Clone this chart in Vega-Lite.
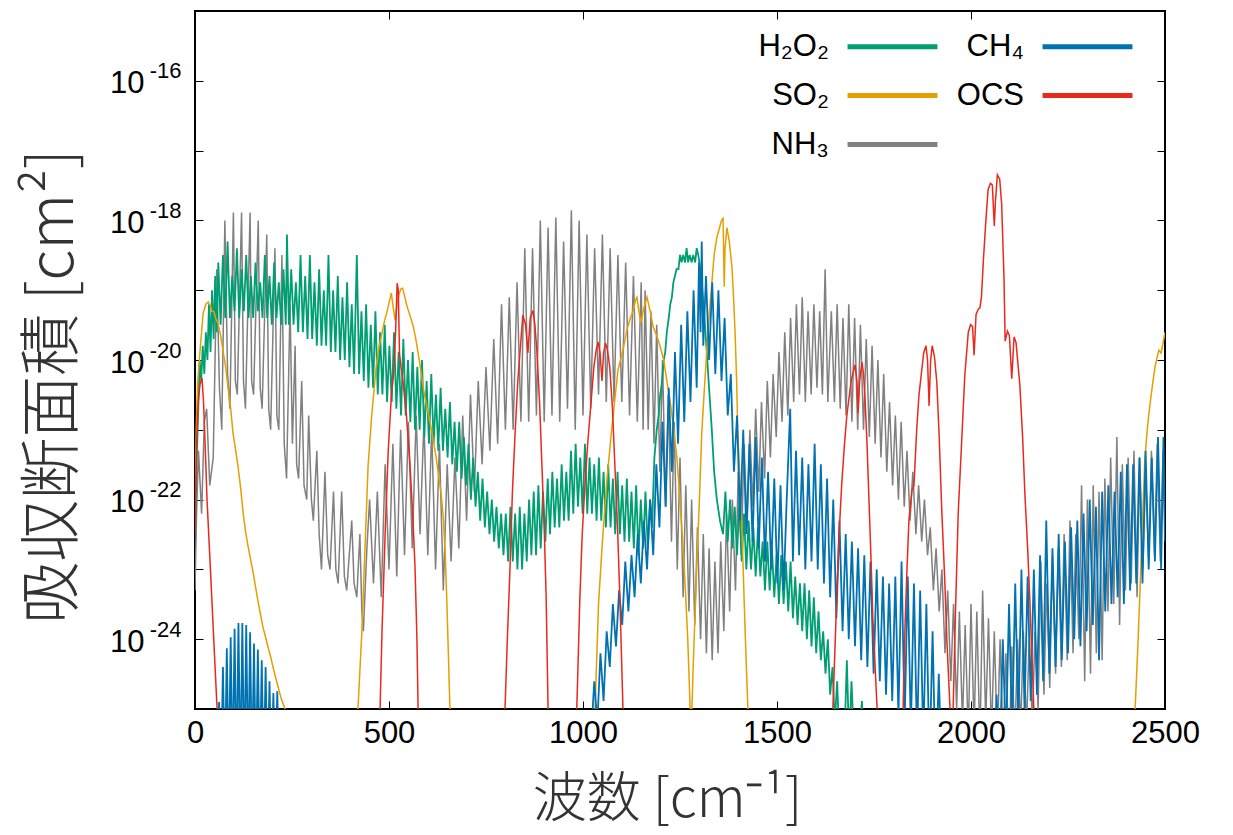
{
"$schema": "https://vega.github.io/schema/vega-lite/v6.json",
"width": 970, "height": 698,
"autosize": "none",
"padding": {"left": 195, "top": 11, "right": 68, "bottom": 126},
"background": "white",
"config": {"view": {"stroke": "black", "strokeWidth": 2}, "font": "Liberation Sans"},
"datasets": {
"ocs": [
{"x":0,"y":3.2e-23},{"x":4,"y":6.3e-22},{"x":8,"y":2.5e-21},{"x":13,"y":4.5e-21},{"x":18,"y":5.5e-21},{"x":22,"y":2.5e-21},{"x":26,"y":6.3e-22},{"x":31,"y":1e-22},{"x":38,"y":1.6e-23},{"x":44,"y":3.2e-24},{"x":50,"y":6.3e-25},{"x":57,"y":1e-25},{"x":65,"y":3e-27},
{"x":470,"y":3e-27},{"x":477,"y":1e-25},{"x":482,"y":1.3e-24},{"x":490,"y":3.2e-23},{"x":498,"y":5e-22},{"x":507,"y":3.7e-21},{"x":512,"y":6.3e-21},{"x":517,"y":2.5e-20},{"x":521,"y":1.26e-19},{"x":524,"y":1e-19},{"x":527,"y":1.26e-20},{"x":531,"y":7.9e-21},{"x":536,"y":5e-21},{"x":545,"y":1.6e-21},{"x":554,"y":3.2e-22},{"x":561,"y":6.3e-23},{"x":567,"y":1.1e-23},{"x":572,"y":1e-24},{"x":575,"y":1e-25},{"x":582,"y":3e-27},
{"x":792,"y":3e-27},{"x":799,"y":1e-25},{"x":805,"y":1e-24},{"x":812,"y":1.1e-23},{"x":818,"y":1.26e-22},{"x":825,"y":8.9e-22},{"x":832,"y":5e-21},{"x":838,"y":1.38e-20},{"x":845,"y":4.4e-20},{"x":852,"y":3.2e-20},{"x":858,"y":1.26e-20},{"x":864,"y":4e-20},{"x":871,"y":5.1e-20},{"x":876,"y":3.2e-20},{"x":881,"y":1.38e-20},{"x":888,"y":2.5e-21},{"x":894,"y":3.2e-22},{"x":900,"y":4e-23},{"x":905,"y":4e-24},{"x":910,"y":1e-25},{"x":917,"y":3e-27},
{"x":978,"y":3e-27},{"x":984,"y":1e-25},{"x":988,"y":6.3e-25},{"x":992,"y":4e-24},{"x":998,"y":3.2e-23},{"x":1005,"y":1.6e-22},{"x":1012,"y":6.3e-22},{"x":1018,"y":1.6e-21},{"x":1028,"y":7.9e-21},{"x":1034,"y":1.4e-20},{"x":1039,"y":1.8e-20},{"x":1044,"y":1.26e-20},{"x":1049,"y":5e-21},{"x":1053,"y":1.26e-20},{"x":1058,"y":1.74e-20},{"x":1063,"y":1.4e-20},{"x":1069,"y":7.9e-21},{"x":1076,"y":2e-21},{"x":1082,"y":3.2e-22},{"x":1089,"y":4e-23},{"x":1095,"y":4e-24},{"x":1103,"y":1e-25},{"x":1110,"y":3e-27},
{"x":1636,"y":3e-27},{"x":1644,"y":1e-25},{"x":1654,"y":4e-24},{"x":1660,"y":3.2e-23},{"x":1667,"y":1.74e-22},{"x":1674,"y":6.3e-22},{"x":1680,"y":1.6e-21},{"x":1691,"y":5e-21},{"x":1701,"y":8.5e-21},{"x":1706,"y":5e-21},{"x":1709,"y":1.74e-21},{"x":1713,"y":5e-21},{"x":1719,"y":9.3e-21},{"x":1723,"y":6.3e-21},{"x":1727,"y":2.7e-21},{"x":1732,"y":6.3e-22},{"x":1737,"y":1e-22},{"x":1742,"y":1.6e-23},{"x":1747,"y":2e-24},{"x":1758,"y":1e-25},{"x":1765,"y":3e-27},
{"x":1818,"y":3e-27},{"x":1825,"y":1e-25},{"x":1830,"y":1.6e-24},{"x":1835,"y":1e-23},{"x":1840,"y":5e-23},{"x":1848,"y":1.38e-22},{"x":1853,"y":1.6e-22},{"x":1860,"y":1e-21},{"x":1866,"y":3.2e-21},{"x":1872,"y":6.3e-21},{"x":1878,"y":1.26e-20},{"x":1884,"y":1.6e-20},{"x":1888,"y":1e-20},{"x":1892,"y":2.2e-21},{"x":1896,"y":1e-20},{"x":1900,"y":1.6e-20},{"x":1906,"y":1.1e-20},{"x":1912,"y":4.7e-21},{"x":1918,"y":7.9e-22},{"x":1925,"y":6.3e-23},{"x":1932,"y":7.9e-24},{"x":1938,"y":9.3e-25},{"x":1946,"y":1e-25},{"x":1950,"y":1e-26},
{"x":1954,"y":1e-25},{"x":1960,"y":2.5e-24},{"x":1967,"y":6.3e-23},{"x":1976,"y":6.9e-22},{"x":1984,"y":6e-21},{"x":1993,"y":2.5e-20},{"x":1999,"y":3.2e-20},{"x":2004,"y":3e-20},{"x":2008,"y":1.17e-20},{"x":2013,"y":4.5e-20},{"x":2019,"y":5.4e-20},{"x":2023,"y":5.6e-20},{"x":2027,"y":8.1e-20},{"x":2032,"y":2.75e-19},{"x":2038,"y":9.3e-19},{"x":2044,"y":2.75e-18},{"x":2050,"y":3.4e-18},{"x":2055,"y":3.2e-18},{"x":2060,"y":8.3e-19},{"x":2063,"y":1.9e-18},{"x":2068,"y":4.5e-18},{"x":2074,"y":3.9e-18},{"x":2079,"y":1.7e-18},{"x":2085,"y":1.55e-19},{"x":2088,"y":1.86e-20},{"x":2094,"y":2.6e-20},{"x":2099,"y":2.24e-20},{"x":2105,"y":5.4e-21},{"x":2111,"y":2.14e-20},{"x":2116,"y":1.78e-20},{"x":2126,"y":4.3e-21},{"x":2133,"y":7.9e-22},{"x":2139,"y":1.17e-22},{"x":2146,"y":2e-23},{"x":2152,"y":3.2e-24},{"x":2162,"y":1e-25},{"x":2170,"y":3e-27}
],
"so2": [
{"x":0,"y":1e-22},{"x":3,"y":1e-21},{"x":7,"y":5e-21},{"x":14,"y":1.6e-20},{"x":21,"y":4.7e-20},{"x":28,"y":6.3e-20},{"x":34,"y":6.8e-20},{"x":40,"y":6e-20},{"x":43,"y":5e-20},{"x":48,"y":5e-20},{"x":53,"y":4e-20},{"x":59,"y":3.4e-20},{"x":66,"y":2.24e-20},{"x":72,"y":1.38e-20},{"x":79,"y":7.9e-21},{"x":85,"y":4.1e-21},{"x":92,"y":2e-21},{"x":98,"y":8.9e-22},{"x":105,"y":5e-22},{"x":111,"y":2.95e-22},{"x":118,"y":1.41e-22},{"x":124,"y":6.5e-23},{"x":130,"y":3.55e-23},{"x":137,"y":2.1e-23},{"x":143,"y":1.41e-23},{"x":150,"y":8.9e-24},{"x":156,"y":5.6e-24},{"x":162,"y":3.6e-24},{"x":169,"y":2.24e-24},{"x":175,"y":1.5e-24},{"x":181,"y":1.12e-24},{"x":188,"y":7.8e-25},{"x":195,"y":5.6e-25},{"x":201,"y":4e-25},{"x":208,"y":2.8e-25},{"x":214,"y":2.1e-25},{"x":222,"y":1.41e-25},{"x":232,"y":1e-25},{"x":245,"y":3e-27},
{"x":410,"y":3e-27},{"x":420,"y":1e-25},{"x":430,"y":1.26e-24},{"x":438,"y":1.9e-23},{"x":446,"y":2.95e-22},{"x":455,"y":1.5e-21},{"x":462,"y":4e-21},{"x":468,"y":9.1e-21},{"x":475,"y":1.6e-20},{"x":482,"y":2.45e-20},{"x":488,"y":3.55e-20},{"x":494,"y":4.7e-20},{"x":500,"y":6.6e-20},{"x":506,"y":9.1e-20},{"x":511,"y":5.6e-20},{"x":516,"y":3.7e-20},{"x":521,"y":6.3e-20},{"x":526,"y":8.9e-20},{"x":531,"y":1.05e-19},{"x":535,"y":1.07e-19},{"x":540,"y":8.3e-20},{"x":545,"y":6.3e-20},{"x":550,"y":5.1e-20},{"x":556,"y":4e-20},{"x":563,"y":2.95e-20},{"x":569,"y":2e-20},{"x":575,"y":1.26e-20},{"x":582,"y":7.1e-21},{"x":588,"y":4.1e-21},{"x":595,"y":2.5e-21},{"x":601,"y":1.74e-21},{"x":608,"y":1.12e-21},{"x":614,"y":7.1e-22},{"x":621,"y":4.2e-22},{"x":627,"y":2.4e-22},{"x":634,"y":1.26e-22},{"x":640,"y":5.6e-23},{"x":645,"y":1.6e-23},{"x":649,"y":3.6e-24},{"x":653,"y":6.3e-25},{"x":657,"y":1e-25},{"x":665,"y":3e-27},
{"x":1020,"y":3e-27},{"x":1031,"y":1e-25},{"x":1040,"y":3.2e-24},{"x":1050,"y":2.5e-23},{"x":1061,"y":1.74e-22},{"x":1072,"y":7.9e-22},{"x":1082,"y":2.7e-21},{"x":1090,"y":7.1e-21},{"x":1103,"y":1.38e-20},{"x":1113,"y":2.7e-20},{"x":1122,"y":4e-20},{"x":1129,"y":5e-20},{"x":1135,"y":7.1e-20},{"x":1139,"y":7.9e-20},{"x":1144,"y":5e-20},{"x":1149,"y":3.4e-20},{"x":1157,"y":5.6e-20},{"x":1165,"y":7.9e-20},{"x":1173,"y":5e-20},{"x":1181,"y":2.95e-20},{"x":1190,"y":2.24e-20},{"x":1199,"y":1.55e-20},{"x":1208,"y":1e-20},{"x":1216,"y":5.1e-21},{"x":1225,"y":2.5e-21},{"x":1233,"y":1.1e-21},{"x":1242,"y":4e-22},{"x":1250,"y":1e-22},{"x":1257,"y":2.5e-23},{"x":1263,"y":6.3e-24},{"x":1270,"y":1e-24},{"x":1276,"y":1.07e-25},{"x":1280,"y":7.9e-26},{"x":1284,"y":4e-25},{"x":1293,"y":1.1e-23},{"x":1300,"y":1e-22},{"x":1306,"y":8.9e-22},{"x":1313,"y":4e-21},{"x":1319,"y":1.38e-20},{"x":1326,"y":5e-20},{"x":1332,"y":1.26e-19},{"x":1338,"y":3.2e-19},{"x":1345,"y":5.75e-19},{"x":1352,"y":7.9e-19},{"x":1357,"y":1e-18},{"x":1361,"y":1.07e-18},{"x":1364,"y":1.12e-19},{"x":1366,"y":4e-19},{"x":1371,"y":7.9e-19},{"x":1377,"y":5e-19},{"x":1384,"y":2.1e-19},{"x":1388,"y":7.9e-20},{"x":1392,"y":2.45e-20},{"x":1396,"y":5e-21},{"x":1399,"y":8.9e-22},{"x":1405,"y":1.6e-22},{"x":1410,"y":3.3e-23},{"x":1414,"y":6.3e-24},{"x":1418,"y":1.23e-24},{"x":1425,"y":1e-25},{"x":1435,"y":3e-27},
{"x":2410,"y":3e-27},{"x":2423,"y":1e-25},{"x":2430,"y":7.9e-25},{"x":2436,"y":5.75e-24},{"x":2442,"y":5e-23},{"x":2448,"y":3.8e-22},{"x":2455,"y":1.12e-21},{"x":2461,"y":2.24e-21},{"x":2468,"y":4.5e-21},{"x":2474,"y":7.8e-21},{"x":2480,"y":1.12e-20},{"x":2484,"y":1.38e-20},{"x":2490,"y":1.26e-20},{"x":2497,"y":2e-20},{"x":2500,"y":2.5e-20}
],
"ch4": [
{"x":57,"y":1e-26},{"x":62,"y":1.26e-25},{"x":67,"y":1e-26},{"x":72,"y":4e-25},{"x":77,"y":1e-26},{"x":82,"y":7.4e-25},{"x":87,"y":1e-26},{"x":92,"y":1.07e-24},{"x":97,"y":1e-26},{"x":102,"y":1.41e-24},{"x":107,"y":1e-26},{"x":112,"y":1.7e-24},{"x":117,"y":1e-26},{"x":122,"y":1.7e-24},{"x":127,"y":1e-26},{"x":132,"y":1.6e-24},{"x":137,"y":1e-26},{"x":142,"y":1.26e-24},{"x":147,"y":1e-26},{"x":152,"y":8.7e-25},{"x":157,"y":1e-26},{"x":162,"y":7.1e-25},{"x":167,"y":1e-26},{"x":172,"y":5e-25},{"x":177,"y":1e-26},{"x":182,"y":4e-25},{"x":187,"y":1e-26},{"x":192,"y":2.5e-25},{"x":197,"y":1e-26},{"x":202,"y":1.7e-25},{"x":207,"y":1e-26},{"x":212,"y":1.8e-25},{"x":217,"y":1e-26},
{"x":1005,"y":3.2e-26},{"x":1013,"y":1e-25},{"x":1021,"y":4e-26},{"x":1029,"y":2.5e-25},{"x":1037,"y":6.3e-26},{"x":1045,"y":6.3e-25},{"x":1053,"y":1.3e-25},{"x":1061,"y":1.3e-24},{"x":1069,"y":4e-25},{"x":1077,"y":3.2e-24},{"x":1085,"y":7.9e-25},{"x":1093,"y":5e-24},{"x":1101,"y":1.6e-24},{"x":1109,"y":1.3e-23},{"x":1117,"y":2.5e-24},{"x":1125,"y":1.6e-23},{"x":1133,"y":4e-24},{"x":1141,"y":3.2e-23},{"x":1149,"y":6.3e-24},{"x":1157,"y":5e-23},{"x":1165,"y":1e-23},{"x":1173,"y":1e-22},{"x":1181,"y":1.6e-23},{"x":1189,"y":3.2e-22},{"x":1197,"y":4e-23},{"x":1205,"y":1.3e-21},{"x":1213,"y":7.9e-23},{"x":1221,"y":4e-21},{"x":1229,"y":2.5e-22},{"x":1237,"y":1.3e-20},{"x":1245,"y":6.3e-22},{"x":1253,"y":3.2e-20},{"x":1261,"y":1.3e-21},{"x":1269,"y":5e-20},{"x":1277,"y":2.5e-21},{"x":1285,"y":1e-19},{"x":1293,"y":4e-21},{"x":1299,"y":2.5e-19},{"x":1303,"y":2.5e-20},{"x":1306,"y":5e-19},{"x":1310,"y":1.6e-20},{"x":1317,"y":1.6e-19},{"x":1325,"y":1e-20},{"x":1333,"y":1.3e-19},{"x":1341,"y":6.3e-21},{"x":1349,"y":1e-19},{"x":1357,"y":5e-21},{"x":1365,"y":4e-20},{"x":1373,"y":1.6e-21},{"x":1381,"y":6.3e-21},{"x":1389,"y":2.5e-22},{"x":1397,"y":1.6e-21},{"x":1405,"y":5e-23},{"x":1413,"y":1e-21},{"x":1421,"y":3.2e-23},{"x":1429,"y":6.3e-22},{"x":1437,"y":2.5e-23},{"x":1445,"y":7.9e-22},{"x":1453,"y":2e-23},{"x":1461,"y":4e-22},{"x":1469,"y":1.3e-23},{"x":1477,"y":2.5e-22},{"x":1485,"y":1e-23},{"x":1493,"y":2e-22},{"x":1501,"y":6.3e-24},{"x":1509,"y":1.6e-22},{"x":1517,"y":5e-24},{"x":1525,"y":1e-22},{"x":1534,"y":2e-21},{"x":1541,"y":1.3e-23},{"x":1549,"y":5e-22},{"x":1557,"y":1.6e-23},{"x":1565,"y":4e-22},{"x":1573,"y":1e-23},{"x":1581,"y":3.2e-22},{"x":1589,"y":1.3e-23},{"x":1597,"y":6.3e-22},{"x":1605,"y":1e-23},{"x":1613,"y":3.2e-22},{"x":1621,"y":6.3e-24},{"x":1629,"y":2e-22},{"x":1637,"y":4e-24},{"x":1645,"y":1e-22},{"x":1653,"y":2e-24},{"x":1661,"y":5e-23},{"x":1669,"y":1.3e-24},{"x":1677,"y":3.2e-23},{"x":1685,"y":1e-24},{"x":1693,"y":2.5e-23},{"x":1701,"y":7.9e-25},{"x":1709,"y":2e-23},{"x":1717,"y":5e-25},{"x":1725,"y":1.6e-23},{"x":1733,"y":4e-25},{"x":1741,"y":1.3e-23},{"x":1749,"y":3.2e-25},{"x":1757,"y":1e-23},{"x":1765,"y":2.5e-25},{"x":1773,"y":7.9e-24},{"x":1781,"y":1.6e-25},{"x":1789,"y":6.3e-24},{"x":1797,"y":1.3e-25},{"x":1805,"y":7.9e-24},{"x":1813,"y":7.9e-26},{"x":1821,"y":1.3e-23},{"x":1829,"y":6.3e-26},{"x":1837,"y":7.9e-24},{"x":1845,"y":5e-26},{"x":1853,"y":6.3e-24},{"x":1861,"y":3.2e-26},{"x":1869,"y":5e-24},{"x":1877,"y":3.2e-26},{"x":1885,"y":3.2e-24},{"x":1893,"y":1.6e-26},{"x":1901,"y":1.3e-24},{"x":1909,"y":1e-26},{"x":1917,"y":3.2e-25},{"x":1925,"y":1e-26},{"x":1933,"y":7.9e-26},{"x":1941,"y":3.2e-27},
{"x":2040,"y":3.2e-27},{"x":2050,"y":4e-26},{"x":2058,"y":1e-26},{"x":2066,"y":1.6e-25},{"x":2074,"y":1.6e-26},{"x":2082,"y":1e-24},{"x":2090,"y":3.2e-26},{"x":2098,"y":3.2e-24},{"x":2106,"y":5e-26},{"x":2114,"y":6.3e-24},{"x":2122,"y":6.3e-26},{"x":2130,"y":1e-23},{"x":2138,"y":1e-25},{"x":2146,"y":7.9e-24},{"x":2154,"y":1.3e-25},{"x":2162,"y":1e-23},{"x":2170,"y":1.6e-25},{"x":2178,"y":1.6e-23},{"x":2186,"y":2.5e-25},{"x":2194,"y":5e-23},{"x":2202,"y":3.2e-25},{"x":2210,"y":2e-23},{"x":2218,"y":4e-25},{"x":2226,"y":3.2e-23},{"x":2234,"y":5e-25},{"x":2242,"y":2.5e-23},{"x":2250,"y":6.3e-25},{"x":2258,"y":4e-23},{"x":2266,"y":1e-24},{"x":2274,"y":5e-23},{"x":2282,"y":7.9e-25},{"x":2290,"y":6.3e-23},{"x":2298,"y":1.3e-24},{"x":2306,"y":1e-22},{"x":2314,"y":1.6e-24},{"x":2322,"y":7.9e-23},{"x":2330,"y":5e-25},{"x":2338,"y":1.3e-22},{"x":2346,"y":2.5e-24},{"x":2354,"y":1.6e-22},{"x":2362,"y":3.2e-24},{"x":2370,"y":1.3e-22},{"x":2378,"y":4e-24},{"x":2386,"y":2.5e-22},{"x":2394,"y":3.2e-24},{"x":2402,"y":3.2e-22},{"x":2410,"y":5e-24},{"x":2418,"y":3.2e-22},{"x":2426,"y":6.3e-24},{"x":2434,"y":4e-22},{"x":2442,"y":6.3e-24},{"x":2450,"y":5e-22},{"x":2458,"y":1e-23},{"x":2466,"y":4e-22},{"x":2474,"y":1.3e-23},{"x":2482,"y":7.9e-22},{"x":2490,"y":1e-23},{"x":2496,"y":7.9e-22},{"x":2500,"y":2.5e-23}
],
"h2o2": [
{"x":0,"y":3.2e-23},{"x":4,"y":3.2e-22},{"x":8,"y":1.6e-21},{"x":12,"y":1e-20},{"x":16,"y":5e-21},{"x":20,"y":1.6e-20},{"x":24,"y":6.3e-21},{"x":28,"y":2.5e-20},{"x":32,"y":1e-20},{"x":36,"y":6.3e-20},{"x":40,"y":1.3e-20},{"x":44,"y":1e-19},{"x":48,"y":2e-20},{"x":52,"y":1.6e-19},{"x":56,"y":2.5e-20},{"x":60,"y":2.5e-19},{"x":66,"y":3.2e-20},{"x":72,"y":3.2e-19},{"x":78,"y":4e-20},{"x":84,"y":5e-19},{"x":90,"y":4e-20},{"x":96,"y":1.6e-19},{"x":102,"y":5e-20},{"x":108,"y":4e-19},{"x":114,"y":4e-20},{"x":120,"y":2e-19},{"x":126,"y":5e-20},{"x":132,"y":3.2e-19},{"x":138,"y":4e-20},{"x":144,"y":1.6e-19},{"x":150,"y":4e-20},{"x":156,"y":2.5e-19},{"x":162,"y":5e-20},{"x":168,"y":1.3e-19},{"x":174,"y":4e-20},{"x":180,"y":3.2e-19},{"x":186,"y":4e-20},{"x":192,"y":1.6e-19},{"x":198,"y":3.2e-20},{"x":204,"y":2.5e-19},{"x":210,"y":4e-20},{"x":216,"y":1.3e-19},{"x":222,"y":3.2e-20},{"x":228,"y":2e-19},{"x":234,"y":3.2e-20},{"x":237,"y":6.3e-19},{"x":242,"y":3.2e-20},{"x":248,"y":2e-19},{"x":254,"y":3.2e-20},{"x":260,"y":1.3e-19},{"x":266,"y":2.5e-20},{"x":272,"y":3.2e-19},{"x":278,"y":2.5e-20},{"x":284,"y":1.6e-19},{"x":290,"y":2e-20},{"x":296,"y":3.2e-19},{"x":302,"y":2e-20},{"x":308,"y":1.3e-19},{"x":314,"y":1.6e-20},{"x":320,"y":2e-19},{"x":326,"y":1.6e-20},{"x":332,"y":1e-19},{"x":338,"y":1.6e-20},{"x":344,"y":3.2e-19},{"x":350,"y":1.3e-20},{"x":356,"y":1e-19},{"x":362,"y":1.3e-20},{"x":368,"y":1.6e-19},{"x":374,"y":1e-20},{"x":380,"y":7.9e-20},{"x":386,"y":1e-20},{"x":392,"y":1.3e-19},{"x":398,"y":7.9e-21},{"x":404,"y":6.3e-20},{"x":410,"y":6.3e-21},{"x":417,"y":3.2e-19},{"x":423,"y":6.3e-21},{"x":429,"y":5e-20},{"x":435,"y":5e-21},{"x":441,"y":6.3e-20},{"x":447,"y":4e-21},{"x":453,"y":3.2e-20},{"x":459,"y":4e-21},{"x":465,"y":5e-20},{"x":471,"y":3.2e-21},{"x":477,"y":2.5e-20},{"x":483,"y":3.2e-21},{"x":489,"y":3.2e-20},{"x":495,"y":2.5e-21},{"x":501,"y":1.6e-20},{"x":507,"y":2.5e-21},{"x":513,"y":2.5e-20},{"x":519,"y":2e-21},{"x":525,"y":1.3e-20},{"x":531,"y":1.6e-21},{"x":537,"y":2e-20},{"x":543,"y":1.6e-21},{"x":549,"y":1e-20},{"x":555,"y":1.3e-21},{"x":561,"y":1.3e-20},{"x":567,"y":1e-21},{"x":573,"y":7.9e-21},{"x":579,"y":1e-21},{"x":585,"y":1e-20},{"x":591,"y":7.9e-22},{"x":597,"y":5e-21},{"x":603,"y":6.3e-22},{"x":609,"y":6.3e-21},{"x":615,"y":6.3e-22},{"x":621,"y":3.2e-21},{"x":627,"y":5e-22},{"x":633,"y":4e-21},{"x":639,"y":5e-22},{"x":645,"y":2e-21},{"x":651,"y":4e-22},{"x":657,"y":2.5e-21},{"x":663,"y":3.2e-22},{"x":669,"y":1.3e-21},{"x":675,"y":2.5e-22},{"x":681,"y":1.3e-21},{"x":687,"y":2e-22},{"x":693,"y":7.9e-22},{"x":699,"y":1.6e-22},{"x":705,"y":6.3e-22},{"x":711,"y":1e-22},{"x":717,"y":4e-22},{"x":723,"y":7.9e-23},{"x":729,"y":2.5e-22},{"x":735,"y":5e-23},{"x":741,"y":2e-22},{"x":747,"y":4e-23},{"x":753,"y":1.3e-22},{"x":759,"y":3.2e-23},{"x":765,"y":1e-22},{"x":771,"y":2.5e-23},{"x":777,"y":7.9e-23},{"x":783,"y":2e-23},{"x":789,"y":6.3e-23},{"x":795,"y":1.6e-23},{"x":801,"y":6.3e-23},{"x":807,"y":1.3e-23},{"x":813,"y":7.9e-23},{"x":819,"y":1.3e-23},{"x":825,"y":6.3e-23},{"x":831,"y":1e-23},{"x":837,"y":7.9e-23},{"x":843,"y":1e-23},{"x":849,"y":6.3e-23},{"x":855,"y":1.3e-23},{"x":861,"y":1e-22},{"x":867,"y":1.6e-23},{"x":873,"y":1.3e-22},{"x":879,"y":1.6e-23},{"x":885,"y":1.6e-22},{"x":891,"y":2e-23},{"x":897,"y":1.3e-22},{"x":903,"y":2.5e-23},{"x":909,"y":2e-22},{"x":915,"y":3.2e-23},{"x":921,"y":2.5e-22},{"x":927,"y":4e-23},{"x":933,"y":2e-22},{"x":939,"y":4e-23},{"x":945,"y":3.2e-22},{"x":951,"y":5e-23},{"x":957,"y":2.5e-22},{"x":963,"y":5e-23},{"x":969,"y":5e-22},{"x":975,"y":6.3e-23},{"x":981,"y":6.3e-22},{"x":987,"y":7.9e-23},{"x":993,"y":4e-22},{"x":999,"y":6.3e-23},{"x":1005,"y":6.3e-22},{"x":1011,"y":6.3e-23},{"x":1017,"y":4e-22},{"x":1023,"y":6.3e-23},{"x":1029,"y":3.2e-22},{"x":1035,"y":5e-23},{"x":1041,"y":4e-22},{"x":1047,"y":5e-23},{"x":1053,"y":2.5e-22},{"x":1059,"y":4e-23},{"x":1065,"y":3.2e-22},{"x":1071,"y":4e-23},{"x":1077,"y":2e-22},{"x":1083,"y":3.2e-23},{"x":1089,"y":2.5e-22},{"x":1095,"y":3.2e-23},{"x":1101,"y":1.6e-22},{"x":1107,"y":2.5e-23},{"x":1113,"y":2e-22},{"x":1119,"y":2.5e-23},{"x":1125,"y":1.3e-22},{"x":1131,"y":2e-23},{"x":1137,"y":1.6e-22},{"x":1143,"y":1.6e-23},{"x":1149,"y":1e-22},{"x":1155,"y":2e-23},{"x":1161,"y":1.3e-22},{"x":1167,"y":2e-23},{"x":1173,"y":1e-22},{"x":1178,"y":4e-23},{"x":1184,"y":4e-22},{"x":1190,"y":1e-21},{"x":1195,"y":1.6e-21},{"x":1199,"y":3.2e-21},{"x":1204,"y":5e-21},{"x":1208,"y":1e-20},{"x":1212,"y":1.3e-20},{"x":1216,"y":2.5e-20},{"x":1221,"y":4e-20},{"x":1225,"y":6.3e-20},{"x":1229,"y":7.9e-20},{"x":1233,"y":1.3e-19},{"x":1237,"y":1.6e-19},{"x":1241,"y":2e-19},{"x":1246,"y":2e-19},{"x":1250,"y":3.2e-19},{"x":1254,"y":2.5e-19},{"x":1258,"y":3.2e-19},{"x":1263,"y":2.5e-19},{"x":1267,"y":4e-19},{"x":1271,"y":2.5e-19},{"x":1275,"y":3.2e-19},{"x":1280,"y":2.5e-19},{"x":1284,"y":3.2e-19},{"x":1289,"y":2.5e-19},{"x":1293,"y":4e-19},{"x":1297,"y":3.2e-19},{"x":1300,"y":2.5e-19},{"x":1306,"y":1.3e-19},{"x":1313,"y":4e-20},{"x":1319,"y":1.3e-20},{"x":1326,"y":3.2e-21},{"x":1332,"y":1e-21},{"x":1338,"y":2.5e-22},{"x":1345,"y":1e-22},{"x":1353,"y":5e-23},{"x":1361,"y":3.2e-23},{"x":1367,"y":1.3e-22},{"x":1373,"y":2.5e-23},{"x":1379,"y":1e-22},{"x":1385,"y":2e-23},{"x":1391,"y":7.9e-23},{"x":1397,"y":1.6e-23},{"x":1403,"y":1e-22},{"x":1409,"y":1.3e-23},{"x":1415,"y":6.3e-23},{"x":1421,"y":1e-23},{"x":1427,"y":5e-23},{"x":1433,"y":1e-23},{"x":1439,"y":4e-23},{"x":1445,"y":7.9e-24},{"x":1451,"y":4e-23},{"x":1457,"y":7.9e-24},{"x":1463,"y":2.5e-23},{"x":1469,"y":5e-24},{"x":1475,"y":2.5e-23},{"x":1481,"y":5e-24},{"x":1487,"y":2e-23},{"x":1493,"y":4e-24},{"x":1499,"y":1.6e-23},{"x":1505,"y":3.2e-24},{"x":1511,"y":1.6e-23},{"x":1517,"y":3.2e-24},{"x":1523,"y":1.3e-23},{"x":1529,"y":2.5e-24},{"x":1535,"y":1.3e-23},{"x":1541,"y":2e-24},{"x":1547,"y":7.9e-24},{"x":1553,"y":1.6e-24},{"x":1559,"y":6.3e-24},{"x":1565,"y":1.3e-24},{"x":1571,"y":6.3e-24},{"x":1577,"y":1e-24},{"x":1583,"y":5e-24},{"x":1589,"y":7.9e-25},{"x":1595,"y":4e-24},{"x":1601,"y":6.3e-25},{"x":1607,"y":2.5e-24},{"x":1613,"y":5e-25},{"x":1619,"y":1.3e-24},{"x":1625,"y":3.2e-25},{"x":1631,"y":1e-24},{"x":1637,"y":1.6e-25},{"x":1643,"y":4e-25},{"x":1649,"y":6.3e-26},{"x":1655,"y":2.5e-25},{"x":1661,"y":3.2e-26},{"x":1667,"y":5e-26},{"x":1673,"y":2.5e-26},{"x":1680,"y":5e-25},{"x":1686,"y":3.2e-26},{"x":1692,"y":2.5e-25},{"x":1698,"y":4e-26},{"x":1704,"y":1e-25},{"x":1710,"y":3.2e-26},{"x":1719,"y":1.3e-25},{"x":1726,"y":1e-26}
],
"nh3": [
{"x":0,"y":5e-24},{"x":4,"y":6.3e-23},{"x":9,"y":5e-22},{"x":17,"y":6.3e-23},{"x":24,"y":1.3e-21},{"x":30,"y":2e-21},{"x":38,"y":1.6e-22},{"x":47,"y":4e-22},{"x":56,"y":2e-19},{"x":63,"y":4e-21},{"x":69,"y":1e-21},{"x":77,"y":1e-18},{"x":84,"y":6.3e-21},{"x":90,"y":2e-21},{"x":99,"y":1.3e-18},{"x":104,"y":5e-21},{"x":109,"y":3.2e-21},{"x":120,"y":1.3e-18},{"x":125,"y":5e-21},{"x":130,"y":2e-21},{"x":142,"y":1.3e-18},{"x":146,"y":5e-21},{"x":151,"y":3.2e-21},{"x":163,"y":1e-18},{"x":168,"y":4e-21},{"x":173,"y":2e-21},{"x":185,"y":6.3e-19},{"x":190,"y":2e-21},{"x":195,"y":1e-21},{"x":206,"y":4e-19},{"x":211,"y":1.6e-21},{"x":216,"y":1e-21},{"x":224,"y":3.2e-19},{"x":230,"y":6.3e-22},{"x":236,"y":2e-22},{"x":245,"y":6.3e-20},{"x":251,"y":6.3e-22},{"x":258,"y":1.6e-20},{"x":262,"y":3.2e-22},{"x":267,"y":2e-22},{"x":275,"y":5e-21},{"x":281,"y":1.6e-22},{"x":288,"y":1e-22},{"x":293,"y":1.6e-21},{"x":300,"y":1e-22},{"x":305,"y":5e-23},{"x":314,"y":5e-22},{"x":320,"y":3.2e-23},{"x":326,"y":1e-23},{"x":335,"y":2.5e-22},{"x":342,"y":1.6e-23},{"x":348,"y":1e-23},{"x":357,"y":1.3e-22},{"x":363,"y":1e-23},{"x":369,"y":6.3e-24},{"x":378,"y":1.3e-22},{"x":385,"y":7.9e-24},{"x":391,"y":5e-24},{"x":404,"y":5e-23},{"x":410,"y":6.3e-24},{"x":417,"y":4e-24},{"x":425,"y":3.2e-23},{"x":430,"y":2.5e-24},{"x":434,"y":1.3e-24},{"x":443,"y":2e-23},
{"x":450,"y":1e-22},{"x":460,"y":6.3e-24},{"x":470,"y":1.3e-22},{"x":480,"y":4e-24},{"x":490,"y":3.2e-22},{"x":500,"y":1e-23},{"x":510,"y":6.3e-22},{"x":520,"y":7.9e-24},{"x":530,"y":1e-21},{"x":540,"y":1.6e-23},{"x":550,"y":1.3e-21},{"x":560,"y":2e-23},{"x":570,"y":1.6e-21},{"x":580,"y":3.2e-23},{"x":590,"y":1.3e-21},{"x":600,"y":1.6e-23},{"x":610,"y":1e-21},{"x":620,"y":1e-23},{"x":630,"y":6.3e-22},{"x":640,"y":5e-24},{"x":650,"y":3.2e-22},{"x":660,"y":1.3e-23},{"x":670,"y":4e-22},{"x":680,"y":2e-23},{"x":690,"y":1.6e-21},{"x":700,"y":5e-23},{"x":710,"y":3.2e-21},{"x":720,"y":1.3e-22},{"x":730,"y":5e-21},{"x":740,"y":3.2e-22},{"x":750,"y":7.9e-21},{"x":760,"y":5e-22},{"x":770,"y":2e-20},{"x":780,"y":6.3e-22},{"x":790,"y":6.3e-20},{"x":800,"y":1e-21},{"x":810,"y":7.9e-20},{"x":820,"y":1e-21},{"x":830,"y":1.3e-19},{"x":840,"y":1.3e-21},{"x":850,"y":4e-19},{"x":860,"y":1.3e-21},{"x":870,"y":4e-19},{"x":880,"y":1.6e-21},{"x":890,"y":1e-18},{"x":900,"y":1.3e-21},{"x":910,"y":7.9e-19},{"x":920,"y":1.6e-21},{"x":930,"y":1.1e-18},{"x":940,"y":1.3e-21},{"x":950,"y":5e-19},{"x":960,"y":2e-21},{"x":970,"y":1.4e-18},{"x":980,"y":1e-21},{"x":990,"y":1e-18},{"x":1000,"y":1.6e-21},{"x":1010,"y":6.3e-19},{"x":1020,"y":2e-21},{"x":1030,"y":4e-19},{"x":1040,"y":3.2e-21},{"x":1050,"y":6.3e-19},{"x":1060,"y":2.5e-21},{"x":1070,"y":4e-19},{"x":1080,"y":2.5e-21},{"x":1090,"y":3.2e-19},{"x":1100,"y":2.5e-21},{"x":1110,"y":2.5e-19},{"x":1120,"y":1.6e-21},{"x":1130,"y":1.6e-19},{"x":1140,"y":1.3e-21},{"x":1150,"y":1.3e-19},
{"x":1155,"y":1e-21},{"x":1160,"y":1e-19},{"x":1168,"y":1e-21},{"x":1175,"y":5e-20},{"x":1183,"y":6.3e-22},{"x":1190,"y":3.2e-20},{"x":1198,"y":2.5e-22},{"x":1205,"y":1e-20},{"x":1213,"y":7.9e-23},{"x":1220,"y":3.2e-21},{"x":1228,"y":2.5e-23},{"x":1235,"y":1.3e-21},{"x":1243,"y":1e-23},{"x":1250,"y":4e-22},{"x":1258,"y":4e-24},{"x":1265,"y":1.6e-22},{"x":1273,"y":2.5e-24},{"x":1280,"y":1e-22},{"x":1288,"y":1.6e-24},{"x":1295,"y":4e-23},{"x":1303,"y":1e-24},{"x":1310,"y":3.2e-23},{"x":1318,"y":6.3e-25},{"x":1325,"y":2e-23},{"x":1333,"y":5e-25},{"x":1340,"y":1.3e-23},{"x":1348,"y":6.3e-25},{"x":1355,"y":2.5e-23},{"x":1363,"y":1.3e-24},{"x":1370,"y":6.3e-23},{"x":1378,"y":2.5e-24},{"x":1385,"y":1e-22},{"x":1393,"y":5e-24},{"x":1400,"y":2.5e-22},{"x":1408,"y":1.6e-23},{"x":1415,"y":6.3e-22},{"x":1423,"y":4e-23},{"x":1430,"y":1e-21},{"x":1438,"y":7.9e-23},{"x":1445,"y":2e-21},{"x":1453,"y":1.3e-22},{"x":1460,"y":2.5e-21},{"x":1468,"y":2e-22},{"x":1475,"y":5e-21},{"x":1483,"y":4e-22},{"x":1490,"y":6.3e-21},{"x":1498,"y":7.9e-22},{"x":1505,"y":1.3e-20},{"x":1513,"y":1.3e-21},{"x":1520,"y":2.5e-20},{"x":1528,"y":1.6e-21},{"x":1535,"y":4e-20},{"x":1543,"y":2.5e-21},{"x":1550,"y":6.3e-20},{"x":1558,"y":3.2e-21},{"x":1565,"y":7.9e-20},{"x":1573,"y":2.5e-21},{"x":1580,"y":5e-20},{"x":1588,"y":3.2e-21},{"x":1595,"y":6.3e-20},{"x":1603,"y":4e-21},{"x":1610,"y":5e-20},{"x":1617,"y":3.2e-21},{"x":1624,"y":2e-19},{"x":1631,"y":2.5e-21},{"x":1640,"y":5e-20},{"x":1648,"y":2.5e-21},{"x":1655,"y":6.3e-20},{"x":1663,"y":2e-21},{"x":1670,"y":4e-20},{"x":1678,"y":1.6e-21},{"x":1685,"y":6.3e-20},{"x":1693,"y":1.3e-21},{"x":1700,"y":4e-20},{"x":1708,"y":1e-21},{"x":1715,"y":3.2e-20},{"x":1723,"y":1e-21},{"x":1730,"y":2e-20},{"x":1738,"y":7.9e-22},{"x":1745,"y":1.6e-20},{"x":1753,"y":6.3e-22},{"x":1760,"y":1e-20},{"x":1768,"y":4e-22},{"x":1775,"y":6.3e-21},{"x":1783,"y":2.5e-22},{"x":1790,"y":2.5e-21},{"x":1798,"y":1.6e-22},{"x":1805,"y":1.6e-21},{"x":1813,"y":1e-22},{"x":1820,"y":1.3e-21},{"x":1828,"y":7.9e-23},{"x":1835,"y":5e-22},{"x":1843,"y":5e-23},{"x":1850,"y":2.5e-22},{"x":1858,"y":3.2e-23},{"x":1865,"y":1.6e-22},{"x":1873,"y":2.5e-23},{"x":1880,"y":1e-22},{"x":1888,"y":1.6e-23},{"x":1895,"y":4e-23},{"x":1903,"y":5e-24},{"x":1910,"y":2e-23},{"x":1918,"y":2.5e-24},{"x":1925,"y":1e-23},{"x":1933,"y":6.3e-25},{"x":1940,"y":5e-24},{"x":1948,"y":2.5e-25},{"x":1955,"y":3.2e-24},{"x":1963,"y":1e-25},{"x":1970,"y":2.5e-24},{"x":1978,"y":6.3e-26},{"x":1985,"y":1.6e-24},{"x":1993,"y":4e-26},{"x":2000,"y":3.2e-24},{"x":2008,"y":5e-26},{"x":2015,"y":2.5e-24},{"x":2023,"y":3.2e-26},{"x":2030,"y":5e-24},{"x":2038,"y":6.3e-26},{"x":2045,"y":2e-24},{"x":2053,"y":4e-26},{"x":2060,"y":1.3e-24},{"x":2068,"y":3.2e-26},{"x":2075,"y":1e-24},{"x":2083,"y":2.5e-26},{"x":2090,"y":6.3e-25},{"x":2098,"y":1.6e-26},{"x":2105,"y":7.9e-25},{"x":2113,"y":3.2e-26},{"x":2120,"y":1e-24},{"x":2128,"y":5e-26},{"x":2135,"y":1.3e-24},{"x":2143,"y":5e-26},{"x":2150,"y":1e-24},{"x":2158,"y":6.3e-26},{"x":2165,"y":1.3e-24},{"x":2173,"y":1e-25},{"x":2180,"y":1.3e-23},{"x":2188,"y":1.6e-25},{"x":2195,"y":6.3e-24},{"x":2203,"y":2e-25},{"x":2210,"y":1.6e-23},{"x":2218,"y":3.2e-25},{"x":2225,"y":2e-23},{"x":2233,"y":4e-25},{"x":2240,"y":3.2e-23},{"x":2248,"y":5e-25},{"x":2255,"y":5e-23},{"x":2263,"y":6.3e-25},{"x":2270,"y":3.2e-23},{"x":2278,"y":1e-24},{"x":2285,"y":1.6e-22},{"x":2293,"y":2.5e-25},{"x":2300,"y":1e-22},{"x":2308,"y":3.2e-25},{"x":2315,"y":1.6e-22},{"x":2323,"y":6.3e-25},{"x":2330,"y":1.3e-22},{"x":2338,"y":5e-25},{"x":2345,"y":2e-22},{"x":2353,"y":2.5e-24},{"x":2360,"y":4e-22},{"x":2368,"y":3.2e-24},{"x":2376,"y":7.9e-22},{"x":2383,"y":1.6e-24},{"x":2390,"y":3.2e-22},{"x":2398,"y":5e-24},{"x":2405,"y":4e-22},{"x":2413,"y":6.3e-24},{"x":2420,"y":5e-22},{"x":2428,"y":4e-24},{"x":2435,"y":4e-22},{"x":2443,"y":1e-23},{"x":2450,"y":2.5e-22},{"x":2458,"y":1.3e-23},{"x":2465,"y":5e-22},{"x":2473,"y":1.6e-23},{"x":2480,"y":6.3e-22},{"x":2488,"y":1.3e-23},{"x":2495,"y":5e-22},{"x":2500,"y":3.2e-23}
]
},
"resolve": {"axis": {"x": "independent", "y": "independent"}},
"layer": [
{
"data": {"name": "nh3"},
"mark": {"type": "line", "clip": true, "strokeWidth": 1.5},
"encoding": {
"x": {"field": "x", "type": "quantitative", "scale": {"domain": [0, 2500], "nice": false, "zero": false},
 "axis": {"orient": "bottom", "values": [0, 500, 1000, 1500, 2000, 2500], "format": "d", "tickSize": -8, "tickColor": "black", "domain": false, "grid": false,
  "labelFont": "Liberation Sans", "labelFontSize": 31, "labelColor": "black", "labelPadding": 17, "labelFlush": false,
  "title": "波数 [cm⁻¹]", "titleFont": "Noto Sans CJK JP", "titleFontSize": 54, "titleFontWeight": 300, "titleColor": "#333333", "titlePadding": 25, "titleX": 472}},
"y": {"field": "y", "type": "quantitative", "scale": {"type": "log", "domain": [1e-25, 1e-15], "nice": false},
 "axis": {"orient": "left", "values": [1e-25,1e-24,1e-23,1e-22,1e-21,1e-20,1e-19,1e-18,1e-17,1e-16,1e-15], "tickSize": -8, "tickColor": "black", "domain": false, "grid": false,
  "labelExpr": "round(log(datum.value)/LN10) % 2 == 0 ? '10' : ''",
  "labelFont": "Liberation Sans", "labelFontSize": 31, "labelColor": "black", "labelPadding": 59, "labelOffset": 3, "labelBaseline": "middle",
  "title": "吸収断面積 [cm²]", "titleFont": "Noto Sans CJK JP", "titleFontSize": 62, "titleFontWeight": 300, "titleColor": "#333333", "titlePadding": 24, "titleY": 375}},
"color": {"datum": "NH₃", "type": "nominal",
 "scale": {"domain": ["H₂O₂", "SO₂", "NH₃", "CH₄", "OCS"], "range": ["#009e73", "#e69f00", "#808080", "#0072b2", "#e8291c"]},
 "legend": {"orient": "none", "legendX": 664, "legendY": 2, "columns": 2, "title": null,
  "symbolType": "M-1.45,0H1.45", "symbolSize": 3844, "symbolStrokeWidth": 5,
  "labelFont": "Liberation Sans", "labelFontSize": 31, "labelColor": "black", "labelAlign": "right", "labelOffset": -97,
  "rowPadding": 0, "columnPadding": 8}}
}
},
{
"data": {"name": "h2o2"},
"mark": {"type": "line", "clip": true, "strokeWidth": 1.8},
"encoding": {
"x": {"field": "x", "type": "quantitative", "axis": null},
"y": {"field": "y", "type": "quantitative", "scale": {"type": "log"}, "axis": null},
"color": {"datum": "H₂O₂", "type": "nominal"}
}
},
{
"data": {"name": "so2"},
"mark": {"type": "line", "clip": true, "strokeWidth": 1.5},
"encoding": {
"x": {"field": "x", "type": "quantitative", "axis": null},
"y": {"field": "y", "type": "quantitative", "scale": {"type": "log"}, "axis": null},
"color": {"datum": "SO₂", "type": "nominal"}
}
},
{
"data": {"name": "ch4"},
"mark": {"type": "line", "clip": true, "strokeWidth": 1.8},
"encoding": {
"x": {"field": "x", "type": "quantitative", "axis": null},
"y": {"field": "y", "type": "quantitative", "scale": {"type": "log"}, "axis": null},
"color": {"datum": "CH₄", "type": "nominal"}
}
},
{
"data": {"name": "ocs"},
"mark": {"type": "line", "clip": true, "strokeWidth": 1.5},
"encoding": {
"x": {"field": "x", "type": "quantitative", "axis": null},
"y": {"field": "y", "type": "quantitative", "scale": {"type": "log"}, "axis": null},
"color": {"datum": "OCS", "type": "nominal"}
}
},
{
"data": {"name": "ocs"},
"mark": {"type": "line", "clip": true, "opacity": 0},
"encoding": {
"x": {"field": "x", "type": "quantitative",
 "axis": {"orient": "top", "values": [0, 500, 1000, 1500, 2000, 2500], "labels": false, "tickSize": -8, "tickColor": "black", "domain": false, "grid": false, "title": null}},
"y": {"field": "y", "type": "quantitative", "scale": {"type": "log"},
 "axis": {"orient": "right", "values": [1e-25,1e-24,1e-23,1e-22,1e-21,1e-20,1e-19,1e-18,1e-17,1e-16,1e-15], "labels": false, "tickSize": -8, "tickColor": "black", "domain": false, "grid": false, "title": null}}
}
},
{
"data": {"name": "ocs"},
"mark": {"type": "line", "clip": true, "opacity": 0},
"encoding": {
"x": {"field": "x", "type": "quantitative", "axis": null},
"y": {"field": "y", "type": "quantitative", "scale": {"type": "log"},
 "axis": {"orient": "left", "values": [1e-24,1e-22,1e-20,1e-18,1e-16], "ticks": false, "domain": false, "grid": false, "title": null,
  "labelExpr": "'-' + (-round(log(datum.value)/LN10))",
  "labelFont": "Liberation Sans", "labelFontSize": 22, "labelColor": "black", "labelPadding": 14, "labelOffset": -10, "labelBaseline": "middle"}}
}
}
]
}
